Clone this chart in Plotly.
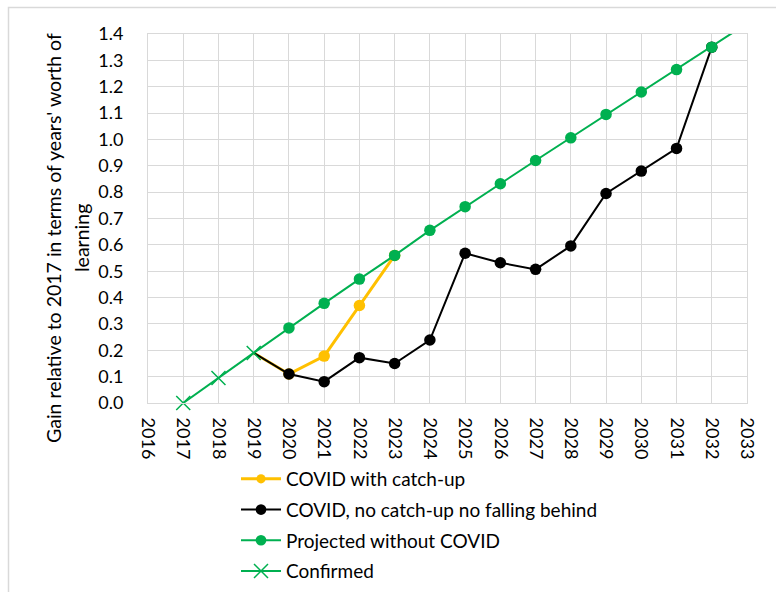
import plotly.graph_objects as go

# ---- data ----
YEARS_ALL = list(range(2016, 2034))

catchup_years = [2019, 2020, 2021, 2022, 2023]
catchup_vals = [0.19, 0.11, 0.178, 0.37, 0.56]

nocatch_years = list(range(2019, 2033))
nocatch_vals = [0.19, 0.11, 0.081, 0.172, 0.15, 0.239, 0.568, 0.532, 0.507,
                0.596, 0.795, 0.88, 0.966, 1.35]

proj_years = list(range(2019, 2034))
proj_vals = [0.19, 0.285, 0.378, 0.47, 0.56, 0.655, 0.745, 0.832, 0.92,
             1.006, 1.095, 1.18, 1.265, 1.35, 1.44]

conf_years = [2017, 2018, 2019]
conf_vals = [0.0, 0.095, 0.19]

YELLOW = "#FFC000"
BLACK = "#000000"
GREEN = "#00B050"
GRID = "#d9d9d9"
FONT = "Lato"
MSIZE = 11.5

# plot area in pixels (776 x 592 canvas)
W, H = 776, 592
L, R, T, B = 148, 29, 34, 189
PW = W - L - R
PH = H - T - B


def px_x(px):
    return (px - L) / PW


def px_y(py):
    return (H - B - py) / PH


def sizes(n):
    # series start at the 2019 confirmed point, which only shows the cross
    return [0] + [MSIZE] * (n - 1)


fig = go.Figure()

fig.add_trace(go.Scatter(
    x=catchup_years, y=catchup_vals, name="COVID with catch-up",
    mode="lines+markers", legendgroup="a",
    line=dict(color=YELLOW, width=3),
    marker=dict(color=YELLOW, size=sizes(len(catchup_years)), opacity=1,
                line=dict(width=0)),
))
fig.add_trace(go.Scatter(
    x=nocatch_years, y=nocatch_vals, name="COVID, no catch-up no falling behind",
    mode="lines+markers", legendgroup="b",
    line=dict(color=BLACK, width=2),
    marker=dict(color=BLACK, size=sizes(len(nocatch_years)), opacity=1,
                line=dict(width=0)),
))
fig.add_trace(go.Scatter(
    x=proj_years, y=proj_vals, name="Projected without COVID",
    mode="lines+markers", legendgroup="c",
    line=dict(color=GREEN, width=2),
    marker=dict(color=GREEN, size=sizes(len(proj_years)), opacity=1,
                line=dict(width=0)),
))
fig.add_trace(go.Scatter(
    x=conf_years, y=conf_vals, name="Confirmed",
    mode="lines+markers", legendgroup="d", cliponaxis=False,
    line=dict(color=GREEN, width=2),
    marker=dict(color=GREEN, size=14, symbol="x-thin",
                line=dict(color=GREEN, width=1.5)),
))

axis_font = dict(family=FONT, size=18, color="#000000")

fig.update_xaxes(
    range=[2016, 2033], tickmode="array", tickvals=YEARS_ALL,
    tickangle=90, tickfont=axis_font, showgrid=True, gridcolor=GRID,
    gridwidth=1, showline=True, linecolor=GRID, linewidth=1, mirror=True,
    zeroline=False, ticks="", ticklabelstandoff=10, automargin=False,
)
fig.update_yaxes(
    range=[0, 1.4], dtick=0.1, tickformat=".1f", tickfont=axis_font,
    showgrid=True, gridcolor=GRID, gridwidth=1, showline=True,
    linecolor=GRID, linewidth=1, mirror=True, zeroline=False, ticks="",
    ticklabelstandoff=20, automargin=False,
)

fig.update_layout(
    width=W, height=H,
    margin=dict(l=L, r=R, t=T, b=B, autoexpand=False),
    paper_bgcolor="white", plot_bgcolor="white",
    font=dict(family=FONT, size=19, color="#000000"),
    showlegend=True,
    legend=dict(
        xref="container", yref="container",
        x=236 / W, y=1 - 460 / H, xanchor="left", yanchor="top",
        traceorder="grouped", tracegroupgap=3,
        font=dict(family=FONT, size=19, color="#000000"),
        itemwidth=40, bgcolor="rgba(0,0,0,0)",
    ),
    annotations=[
        dict(text="Gain relative to 2017 in terms of years' worth of",
             textangle=-90, x=px_x(53), y=px_y(238), xref="paper", yref="paper",
             xanchor="center", yanchor="middle",
             showarrow=False, font=dict(family=FONT, size=19.5)),
        dict(text="learning",
             textangle=-90, x=px_x(81), y=px_y(238), xref="paper", yref="paper",
             xanchor="center", yanchor="middle",
             showarrow=False, font=dict(family=FONT, size=19.5)),
    ],
    shapes=[
        dict(type="rect", xref="paper", yref="paper",
             x0=px_x(8.5), y0=px_y(7.5), x1=px_x(790), y1=px_y(610),
             line=dict(color=GRID, width=1.5), layer="below"),
    ],
)

# the page body has an 8px default margin; drop it so the figure sits at 0,0
fig.write_html("out.html", config={"displayModeBar": False},
               post_script="document.body.style.margin='0px';")
